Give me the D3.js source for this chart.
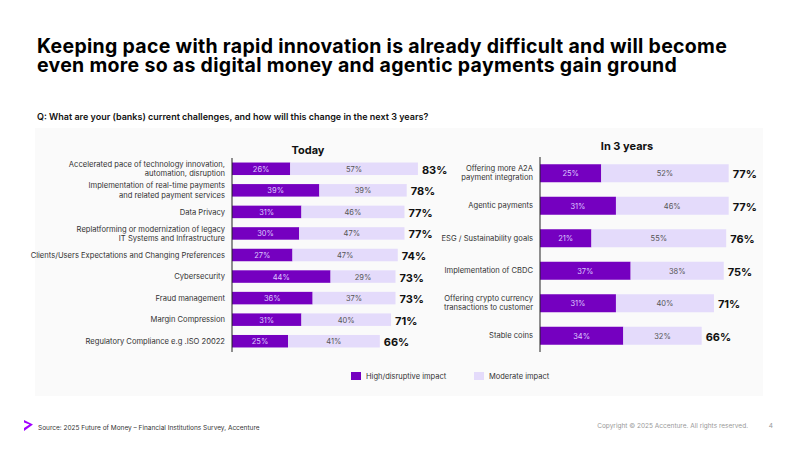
<!DOCTYPE html>
<html>
<head>
<meta charset="utf-8">
<script src="https://cdn.jsdelivr.net/npm/d3@7"></script>
<style>
  body { margin: 0; background: #fff; }
  svg { font-family: Inter, "Noto Sans", sans-serif; display: block; }
</style>
</head>
<body>
<svg id="chart" width="800" height="450"></svg>
<script>
// data: today
const todayLabels = [
  ["Accelerated pace of technology innovation,", "automation, disruption"],
  ["Implementation of real-time payments", "and related payment services"],
  ["Data Privacy"],
  ["Replatforming or modernization of legacy", "IT Systems and Infrastructure"],
  ["Clients/Users Expectations and Changing Preferences"],
  ["Cybersecurity"],
  ["Fraud management"],
  ["Margin Compression"],
  ["Regulatory Compliance e.g .ISO 20022"]
]
const todayHigh = [26, 39, 31, 30, 27, 44, 36, 31, 25]
const todayModerate = [57, 39, 46, 47, 47, 29, 37, 40, 41]
const todayTotal = [83, 78, 77, 77, 74, 73, 73, 71, 66]

// data: in 3 years
const futureLabels = [
  ["Offering more A2A", "payment integration"],
  ["Agentic payments"],
  ["ESG / Sustainability goals"],
  ["Implementation of CBDC"],
  ["Offering crypto currency", "transactions to customer"],
  ["Stable coins"]
]
const futureHigh = [25, 31, 21, 37, 31, 34]
const futureModerate = [52, 46, 55, 38, 40, 32]
const futureTotal = [77, 77, 76, 75, 71, 66]

const seriesNames = ["High/disruptive impact", "Moderate impact"]
const titleLines = [
  "Keeping pace with rapid innovation is already difficult and will become",
  "even more so as digital money and agentic payments gain ground"
]

const dark = "#7500c0"
const light = "#e4dbfb"

const svg = d3.select('#chart')

// title block (one text, wrapped in two lines)
svg.append('text')
  .attr('font-size', 19.5).attr('font-weight', 700).attr('fill', '#000')
  .attr('letter-spacing', 0.3)
  .selectAll('tspan').data(titleLines).join('tspan')
  .attr('x', 37).attr('y', (d, i) => 53 + i * 19)
  .text(d => d)

svg.append('text')
  .attr('x', 37).attr('y', 120)
  .attr('font-size', 9).attr('font-weight', 600).attr('fill', '#111')
  .text('Q: What are your (banks) current challenges, and how will this change in the next 3 years?')

// grey panel
svg.append('rect')
  .attr('x', 35).attr('y', 128).attr('width', 728).attr('height', 268)
  .attr('fill', '#fafafa')

function drawPanel(opts) {
  const { labels, high, moderate, total, x0, perPct, top, bottom, barH, title, titleX, titleY, labelSize, totalSize } = opts
  const n = labels.length
  const x = d3.scaleLinear().domain([0, 100]).range([x0, x0 + perPct * 100])
  const y = d3.scaleBand().domain(d3.range(n)).range([top, bottom]).paddingInner(0).paddingOuter(0)
  const g = svg.append('g')

  g.append('text')
    .attr('x', titleX).attr('y', titleY)
    .attr('text-anchor', 'middle')
    .attr('font-size', 11).attr('font-weight', 700).attr('fill', '#111')
    .text(title)

  const rows = g.selectAll('g.row').data(d3.range(n)).join('g').attr('class', 'row')
    .attr('transform', i => `translate(0,${y(i) + y.bandwidth() / 2})`)

  rows.append('rect')
    .attr('x', x(0)).attr('y', -barH / 2)
    .attr('width', i => x(high[i]) - x(0)).attr('height', barH)
    .attr('fill', dark)
  rows.append('rect')
    .attr('x', i => x(high[i])).attr('y', -barH / 2)
    .attr('width', i => x(high[i] + moderate[i]) - x(high[i])).attr('height', barH)
    .attr('fill', light)

  rows.append('text')
    .attr('x', i => (x(0) + x(high[i])) / 2).attr('y', 3)
    .attr('text-anchor', 'middle').attr('font-size', 7.5).attr('fill', '#dcc8ff')
    .text(i => high[i] + '%')
  rows.append('text')
    .attr('x', i => (x(high[i]) + x(high[i] + moderate[i])) / 2).attr('y', 3)
    .attr('text-anchor', 'middle').attr('font-size', 7.5).attr('fill', '#555')
    .text(i => moderate[i] + '%')

  rows.append('text')
    .attr('x', i => x(total[i]) + 4).attr('y', 5)
    .attr('font-size', totalSize).attr('font-weight', 700).attr('fill', '#111')
    .text(i => total[i] + '%')

  const lab = rows.append('text')
    .attr('text-anchor', 'end').attr('font-size', labelSize).attr('fill', '#333')
  lab.selectAll('tspan').data(i => labels[i].map((t, k) => ({ t, k, len: labels[i].length })))
    .join('tspan')
    .attr('x', x0 - 7)
    .attr('y', d => (d.k - (d.len - 1) / 2) * (labelSize + 1.5) + labelSize * 0.35)
    .text(d => d.t)

  g.append('line')
    .attr('x1', x0).attr('x2', x0)
    .attr('y1', top).attr('y2', bottom)
    .attr('stroke', '#222').attr('stroke-width', 1)
}

drawPanel({
  labels: todayLabels, high: todayHigh, moderate: todayModerate, total: todayTotal,
  x0: 232, perPct: 2.24, top: 158, bottom: 352, barH: 12.5,
  title: 'Today', titleX: 308, titleY: 154, labelSize: 7.6, totalSize: 11
})

drawPanel({
  labels: futureLabels, high: futureHigh, moderate: futureModerate, total: futureTotal,
  x0: 540, perPct: 2.45, top: 157, bottom: 352, barH: 18,
  title: 'In 3 years', titleX: 627, titleY: 150, labelSize: 7.6, totalSize: 11
})

// legend
const legend = svg.append('g')
const legX = [351, 474]
seriesNames.forEach((name, i) => {
  legend.append('rect')
    .attr('x', legX[i]).attr('y', 372).attr('width', 10).attr('height', 8)
    .attr('fill', i === 0 ? dark : light)
  legend.append('text')
    .attr('x', legX[i] + 15).attr('y', 379)
    .attr('font-size', 7.5).attr('fill', '#333')
    .text(name)
})

// footer
svg.append('path')
  .attr('d', 'M24,420 L33,424.5 L24,431 L24,428 L29.5,424.5 L24,422.5 Z')
  .attr('fill', '#a100ff')
svg.append('text')
  .attr('x', 38).attr('y', 430)
  .attr('font-size', 6.5).attr('fill', '#333')
  .text('Source: 2025 Future of Money – Financial Institutions Survey, Accenture')
svg.append('text')
  .attr('x', 748).attr('y', 428).attr('text-anchor', 'end')
  .attr('font-size', 6.5).attr('fill', '#999')
  .text('Copyright © 2025 Accenture. All rights reserved.')
svg.append('text')
  .attr('x', 773).attr('y', 428).attr('text-anchor', 'end')
  .attr('font-size', 6.5).attr('fill', '#999')
  .text('4')
</script>
</body>
</html>
